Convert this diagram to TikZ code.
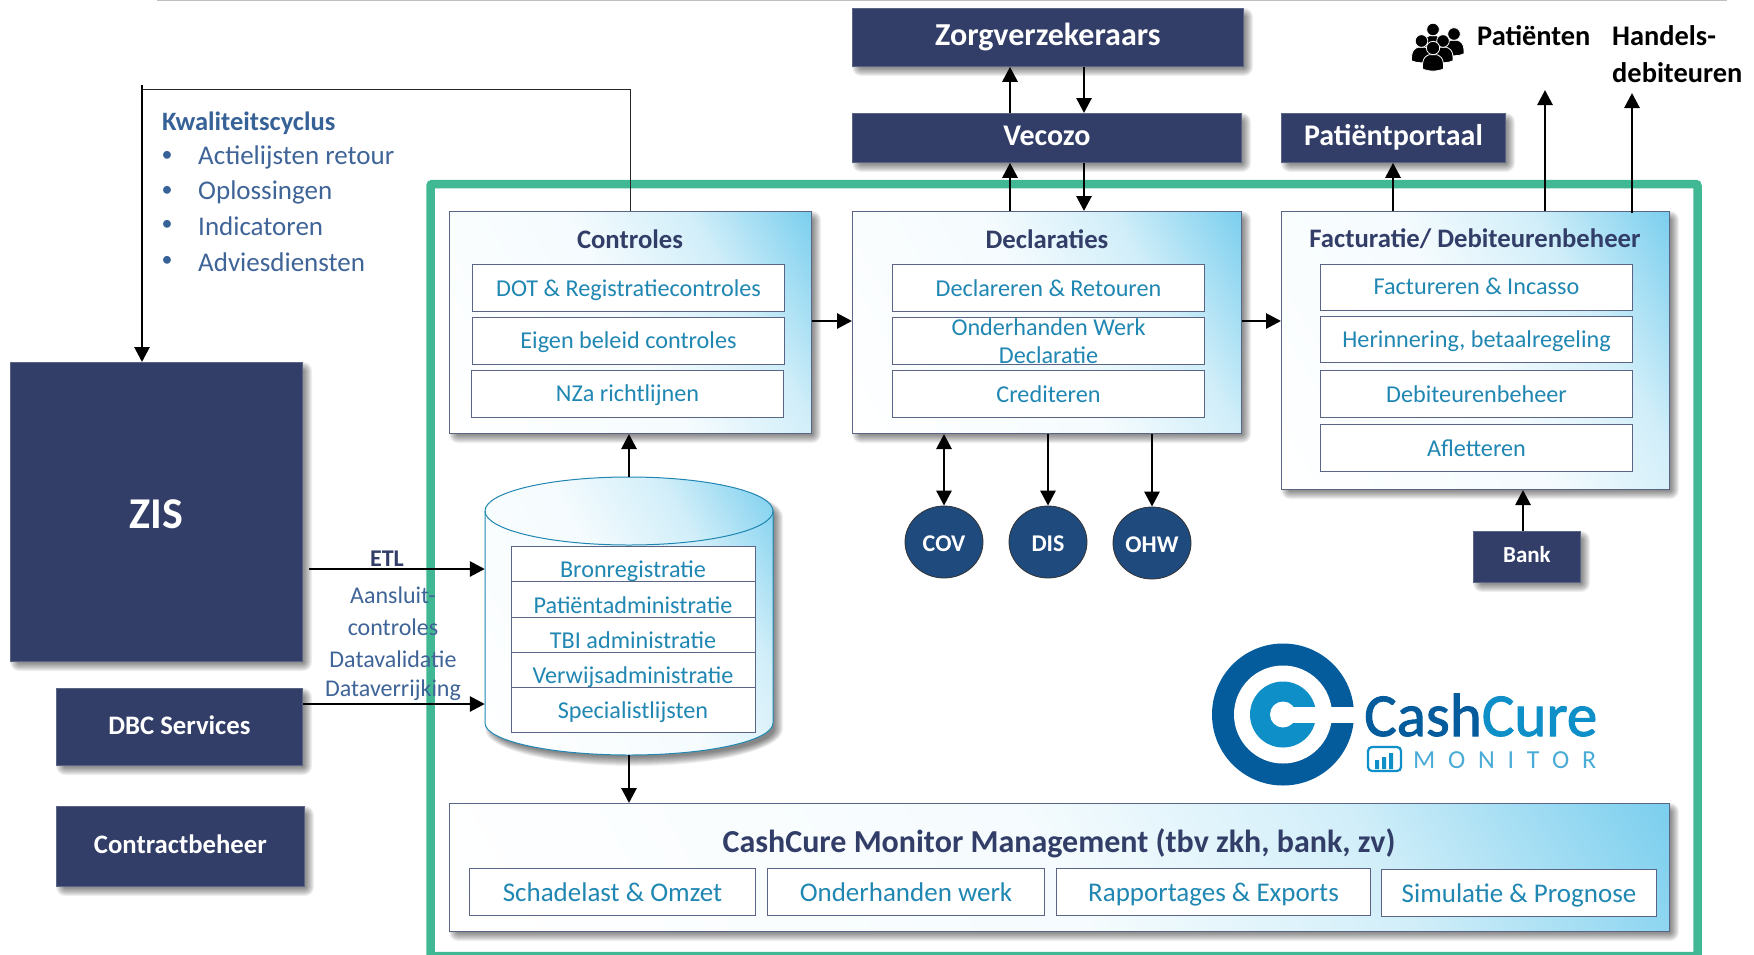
\documentclass[tikz,border=0pt]{standalone}
\usepackage{fontspec}
\setmainfont{Carlito}
\usetikzlibrary{arrows.meta,calc,shapes.geometric}
\definecolor{navy}{HTML}{323E68}
\definecolor{teal1}{HTML}{2087B3}
\definecolor{blue1}{HTML}{366297}
\definecolor{blue2}{HTML}{3F6498}
\definecolor{green1}{HTML}{41B894}
\definecolor{grad}{HTML}{7CCFEE}
\colorlet{gradA}{grad!8!white}
\colorlet{gradB}{grad!35!white}
\definecolor{edge}{HTML}{5A6484}
\definecolor{circfill}{HTML}{1F4A7E}
\definecolor{logod}{HTML}{045C9C}
\definecolor{logol}{HTML}{0E8FC8}
\pgfdeclareverticalshading{panelshade}{100bp}{color(0bp)=(white); color(16bp)=(white); color(50bp)=(gradA); color(67bp)=(gradB); color(84bp)=(grad); color(100bp)=(grad)}
\newcommand{\fs}[2]{\fontsize{#1}{#2}\selectfont}
\tikzset{
  x=1pt,y=-1pt,
  panelfill/.style={shade,shading=panelshade,shading angle=-60},
  darkbox/.style={draw=edge,line width=.8pt,fill=navy,text=white,font=\bfseries\fs{30}{34},anchor=north west,inner sep=0pt,text height=21.5pt,text depth=6.5pt},
  gradbox/.style={draw=edge,line width=1pt,panelfill,anchor=north west,inner sep=0pt},
  whitebox/.style={draw=edge,line width=1pt,fill=white,text=teal1,font=\fs{24.2}{28},anchor=north west,inner sep=0pt,align=center,text height=20pt,text depth=3pt},
  mgbox/.style={whitebox,font=\fs{27}{30},text height=22pt,text depth=3pt},
  title/.style={text=navy,font=\bfseries\fs{26.7}{30},inner sep=0pt},
  circ/.style={ellipse,draw=black!80,line width=.8pt,fill=circfill,text=white,font=\bfseries\fs{24}{28},inner sep=0pt,minimum width=78pt,minimum height=72pt,text height=20pt,text depth=.6pt},
  arr/.style={draw=black,line width=2.8pt,-{Triangle[length=15pt,width=15pt]}},
  darr/.style={draw=black,line width=2.8pt,{Triangle[length=15pt,width=15pt]}-{Triangle[length=15pt,width=15pt]}},
  side/.style={text=blue2,font=\fs{24}{28},inner sep=0pt},
  listt/.style={text=blue2,font=\fs{27}{30},inner sep=0pt,anchor=west},
  cyltxt/.style={text=teal1,font=\fs{24.2}{28},inner sep=0pt,anchor=base},
  blk/.style={text=black,font=\bfseries\fs{28.4}{32},inner sep=0pt,anchor=west},
}
% soft shadow behind a box
\newcommand{\shd}[4]{%
  \foreach \i in {0,...,9}{%
    \pgfmathsetmacro{\e}{5-\i}
    \fill[black,opacity=.06,rounded corners={max(\e+4,0)*1pt}] (#1+5-\e,#2+5-\e) rectangle (#3+5+\e,#4+5+\e);
  }}
% \bx{style}{name}{x1}{y1}{x2}{y2}{text}
\newcommand{\bx}[7]{\node[#1,minimum width={(#5-#3)*1pt},minimum height={(#6-#4)*1pt}] (#2) at (#3,#4) {#7};}
\newcommand{\sbx}[7]{\shd{#3}{#4}{#5}{#6}\bx{#1}{#2}{#3}{#4}{#5}{#6}{#7}}
\newcommand{\person}[3]{% x y scale
  \fill[black,draw=white,line width=.8pt] (#1-#3*11,#2+#3*22) .. controls (#1-#3*12,#2+#3*9) and (#1-#3*6,#2+#3*8) .. (#1-#3*4,#2+#3*7) -- (#1+#3*4,#2+#3*7) .. controls (#1+#3*6,#2+#3*8) and (#1+#3*12,#2+#3*9) .. (#1+#3*11,#2+#3*22) .. controls (#1+#3*5,#2+#3*25) and (#1-#3*5,#2+#3*25) .. cycle;
  \fill[black,draw=white,line width=.8pt] (#1,#2) circle ({#3*7});
}
\begin{document}
\begin{tikzpicture}
\useasboundingbox (0,0) rectangle (1754,954);
\fill[white] (0,0) rectangle (1754,954);
\draw[black!25,line width=1.2pt] (157,0.5) -- (1727,0.5);
% frame
\begin{scope}
\clip (0,0) rectangle (1754,954);
\draw[green1,line width=8.5pt,rounded corners=2pt] (430.5,184) rectangle (1697.5,956);
\end{scope}

% dark boxes
\sbx{darkbox,font=\bfseries\fs{32}{36},text height=23.5pt}{zorg}{852}{8}{1243}{66}{Zorgverzekeraars}
\sbx{darkbox}{vec}{852}{113}{1241}{162}{Vecozo}
\sbx{darkbox}{port}{1281}{113}{1505}{162}{Patiëntportaal}
\sbx{darkbox,font=\bfseries\fs{44}{48},text height=34pt,text depth=0pt}{zis}{10}{362}{302}{661}{ZIS}
\sbx{darkbox,font=\bfseries\fs{26.7}{30},text height=21pt,text depth=6pt}{dbc}{56}{688}{302}{765}{DBC Services}
\sbx{darkbox,font=\bfseries\fs{26.7}{30},text height=20pt,text depth=6pt}{contract}{56}{806}{304}{886}{Contractbeheer}
\sbx{darkbox,font=\bfseries\fs{23}{26},text height=17pt,text depth=5.4pt}{bank}{1473}{531}{1580}{582}{Bank}

% main panels
\sbx{gradbox}{ctrl}{449}{211}{811}{433}{}
\sbx{gradbox}{decl}{852}{211}{1241}{433}{}
\sbx{gradbox}{fact}{1281}{211}{1669}{489}{}
\sbx{gradbox}{mgmt}{449}{803}{1669}{931}{}
\node[title] (ctrlT) at (630,239) {Controles};
\node[title] (declT) at (1047,239) {Declaraties};
\node[title] (factT) at (1475,239) {Facturatie/ Debiteurenbeheer};
\node[title,font=\bfseries\fs{32}{36}] (mgmtT) at (1059,843) {CashCure Monitor Management (tbv zkh, bank, zv)};

\bx{whitebox}{c1}{472}{264}{784}{311}{DOT \& Registratiecontroles}
\bx{whitebox,text height=19pt,text depth=4pt}{c2}{472}{317}{784}{364}{Eigen beleid controles}
\bx{whitebox,text height=19pt,text depth=4pt}{c3}{471}{370}{783}{417}{NZa richtlijnen}
\bx{whitebox}{d1}{892}{264}{1204}{311}{Declareren \& Retouren}
\bx{whitebox}{d2}{892}{317}{1204}{364}{}
\node[text=teal1,font=\fs{24.2}{28},align=center,inner sep=0pt] (d2t) at (d2.center) {Onderhanden Werk\\Declaratie};
\bx{whitebox}{d3}{892}{370}{1204}{417}{Crediteren}
\bx{whitebox,text height=18pt,text depth=4pt}{f1}{1320}{264}{1632}{310}{Factureren \& Incasso}
\bx{whitebox,text height=19pt,text depth=4pt}{f2}{1320}{316}{1632}{362}{Herinnering, betaalregeling}
\bx{whitebox}{f3}{1320}{370}{1632}{417}{Debiteurenbeheer}
\bx{whitebox}{f4}{1320}{424}{1632}{471}{Afletteren}
\bx{mgbox}{m1}{469}{868}{755}{915}{Schadelast \& Omzet}
\bx{mgbox}{m2}{767}{868}{1044}{915}{Onderhanden werk}
\bx{mgbox}{m3}{1056}{868}{1370}{915}{Rapportages \& Exports}
\bx{mgbox}{m4}{1381}{869}{1656}{916}{Simulatie \& Prognose}

% cylinder
\foreach \i in {0,...,9}{%
  \pgfmathsetmacro{\e}{5-\i}
  \fill[black,opacity=.06] (490-\e,517) arc[start angle=180,end angle=360,x radius={144+\e},y radius={34+\e}] -- (778+\e,729)
    arc[start angle=0,end angle=180,x radius={144+\e},y radius={32+\e}] -- cycle;
}
\path[draw=teal1,line width=1pt,panelfill]
  (485,511) arc[start angle=180,end angle=360,x radius=144,y radius=34] -- (773,723)
  arc[start angle=0,end angle=180,x radius=144,y radius=32] -- cycle;
\draw[teal1,line width=1pt] (485,511) arc[start angle=180,end angle=0,x radius=144,y radius=34];
\node[minimum width=288pt,minimum height=278pt,inner sep=0pt] (cyl) at (629,616) {};
\bx{whitebox}{s1}{511}{546}{755}{581}{}
\bx{whitebox}{s2}{511}{581}{755}{617}{}
\bx{whitebox}{s3}{511}{617}{755}{652}{}
\bx{whitebox}{s4}{511}{652}{755}{687}{}
\bx{whitebox}{s5}{511}{687}{755}{732}{}
\node[cyltxt] (s1t) at (633,577) {Bronregistratie};
\node[cyltxt] (s2t) at (633,613) {Patiëntadministratie};
\node[cyltxt] (s3t) at (633,648) {TBI administratie};
\node[cyltxt] (s4t) at (633,683) {Verwijsadministratie};
\node[cyltxt] (s5t) at (633,718) {Specialistlijsten};

% circles
\node[circ] (cov) at (944,542) {COV};
\node[circ] (dis) at (1048,542) {DIS};
\node[circ] (ohw) at (1152,543) {OHW};

% list
\node[text=blue1,font=\bfseries\fs{26.5}{30},inner sep=0pt,anchor=west] (kw) at (162,123) {Kwaliteitscyclus};
\foreach \n/\y/\t in {l1/157/Actielijsten retour,l2/192.5/Oplossingen,l3/226/Indicatoren,l4/262/Adviesdiensten}{
  \node[listt] (\n) at (198,\y) {\t};
  \node[text=blue1,font=\fs{22}{28},inner sep=0pt] (\n b) at (167,\y-1) {•};
}

% side labels
\node[text=navy,font=\bfseries\fs{24}{26},inner sep=0pt] (etl) at (387,559) {ETL};
\node[side] (a1) at (393,595) {Aansluit-};
\node[side] (a2) at (393,627) {controles};
\node[side] (a3) at (393,659) {Datavalidatie};
\node[side] (a4) at (393,690) {Dataverrijking};

% coordinates for connector columns
\coordinate (xup) at (1010,0);
\coordinate (xdn) at (1084,0);
\coordinate (xpo) at (1393,0);
\coordinate (xpa) at (1545,0);
\coordinate (xha) at (1632,0);
\coordinate (xdb) at (629,0);
\coordinate (xkw) at (142,0);
\coordinate (xbk) at (1523,0);
\coordinate (ypa) at (1545,90);
\coordinate (yha) at (1632,93);
\coordinate (ykw) at (142,85);
\coordinate (ctop) at (630,89);
\coordinate (ctopl) at (142,89);
\coordinate (yrow) at (0,321);
\coordinate (yetl) at (0,569);
\coordinate (ydbc) at (0,704);
\coordinate (etls) at (309,569);

% connectors
\draw[arr] (xup |- vec.north) -- (xup |- zorg.south);
\draw[arr] (xdn |- zorg.south) -- (xdn |- vec.north);
\draw[arr] (xup |- decl.north) -- (xup |- vec.south);
\draw[arr] (xdn |- vec.south) -- (xdn |- decl.north);
\draw[arr] (xpo |- fact.north) -- (xpo |- port.south);
\draw[arr] (xpa |- fact.north) -- (ypa);
\draw[arr] ($(xha |- fact.north)+(0,2)$) -- (yha);
\draw[arr] (ctrl.east |- yrow) -- (decl.west |- yrow);
\draw[arr] (decl.east |- yrow) -- (fact.west |- yrow);
\draw[darr] (cov |- decl.south) -- (cov.north);
\draw[arr] (dis |- decl.south) -- (dis.north);
\draw[arr] (ohw |- decl.south) -- (ohw.north);
\draw[arr] (xbk |- bank.north) -- (xbk |- fact.south);
\draw[arr] (xdb |- cyl.north) -- (xdb |- ctrl.south);
\draw[arr] (xdb |- cyl.south) -- (xdb |- mgmt.north);
\draw[arr] (etls) -- (cyl.west |- yetl);
\draw[arr] (dbc.east |- ydbc) -- (cyl.west |- ydbc);
\draw[black!85,line width=1pt] (ctrl.north -| ctop) -- (ctop) -- (ctopl);
\draw[arr] (ykw) -- (xkw |- zis.north);

% people icon
\person{1454}{34}{.9}
\person{1433}{29.5}{.9}
\person{1421.5}{41}{.9}
\person{1443}{41}{.9}
\person{1433}{48}{.95}

\node[blk] (pat) at (1477,36) {Patiënten};
\node[blk] (han1) at (1612,36) {Handels-};
\node[blk] (han2) at (1612,73) {debiteuren};

% logo
\fill[logod] (1283,714.5) circle (71);
\fill[white] (1283,714.5) circle (49);
\fill[logol] (1283,714.5) circle (33);
\fill[white] (1283,714.5) circle (13);
\fill[white] (1283,706.5) rectangle (1356,723);
\node[inner sep=0pt,anchor=base west,font=\fs{61}{66}\addfontfeature{FakeBold=1.6},text=logod] (cash) at (1364,736) {Cash\textcolor{logol}{Cure}};
\draw[logol,line width=2.2pt,rounded corners=4pt] (1368,747) rectangle (1401,771);
\fill[logol] (1375,760) rectangle (1379,769) (1382,757) rectangle (1386,769) (1389,753) rectangle (1393,769);
\node[inner sep=0pt,anchor=base west,font=\fs{26}{28},text=logol!75!white] (mon) at (1413,768) {\makebox[183pt][s]{M\hfill O\hfill N\hfill I\hfill T\hfill O\hfill R}};
\end{tikzpicture}
\end{document}
